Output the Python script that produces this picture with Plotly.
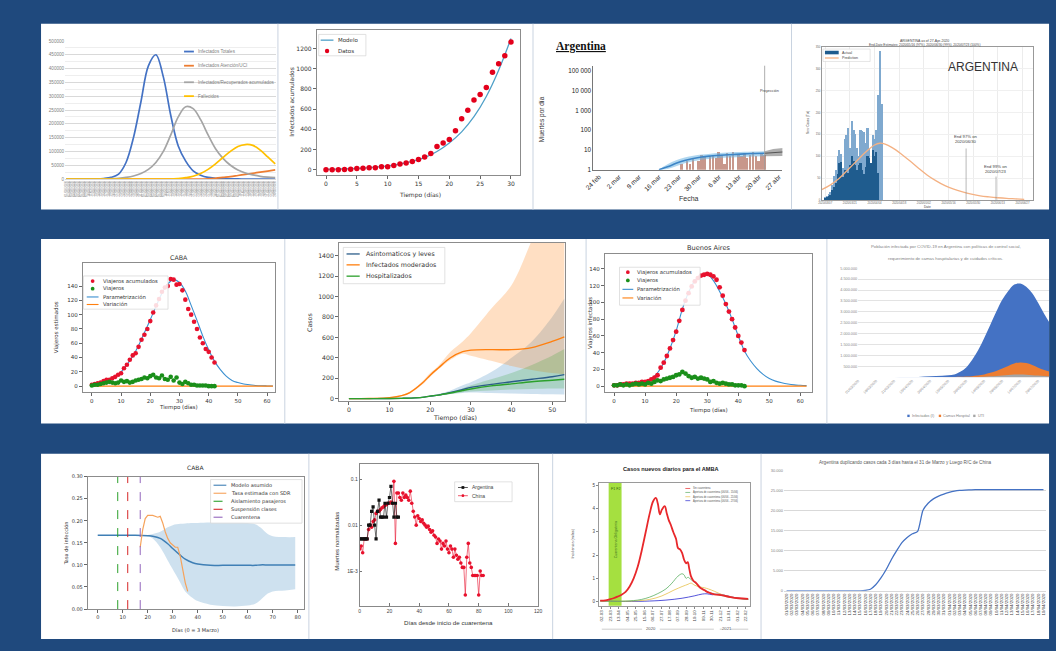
import pandas as pd
import plotly.graph_objects as go

W, H = 1056, 651
BG = "#1F497D"
MPL = "DejaVu Sans"
XL = "Liberation Sans"
SERIF = "Liberation Serif"

# ======================= DATA =======================
# Panel A (Excel curves)
A_days = list(range(0, 85, 3))
A_labels = [d.strftime("%d/%m/%Y") for d in pd.date_range("2020-03-01", periods=85)]
A_total = [0, 0, 0, 0, 500, 2000, 6000, 18000, 60000, 150000, 280000, 410000, 450000, 370000, 230000,
           120000, 65000, 30000, 14000, 6000, 3000, 1500, 800, 400, 200, 100, 50, 20, 10]
A_uci = [0] * 19 + [1000, 3000, 6000, 9000, 13000, 17000, 21000, 25000, 29000, 33000]
A_hosp = [0, 0, 0, 0, 0, 500, 1500, 3000, 6000, 11000, 20000, 35000, 60000, 100000, 160000, 225000,
          262000, 255000, 215000, 160000, 110000, 75000, 50000, 33000, 22000, 15000, 10000, 7000, 5000]
A_fall = [0] * 15 + [2000, 5000, 10000, 20000, 35000, 55000, 78000, 100000, 118000, 125000, 122000,
                     105000, 80000, 55000]
A_yticks = list(range(0, 500001, 50000))
A_names = ["Infectados Totales", "Infectados Atención/UCI", "Infectados/Recuperados acumulados", "Fallecidos"]

# Panel B (Modelo / Datos)
B_days = list(range(31))
B_data = [0, 0, 0, 2, 5, 12, 15, 18, 20, 30, 30, 40, 55, 65, 80, 100, 125, 160, 230, 265, 300, 385, 505,
          590, 690, 745, 815, 965, 1050, 1130, 1265]
B_mdays = list(range(0, 31, 2))
B_model = [3, 6, 10, 16, 25, 38, 56, 82, 120, 180, 265, 375, 525, 725, 985, 1300]

# Panel C (Argentina, log)
C_xt = [0, 7, 14, 21, 28, 35, 42, 49, 56, 63]
C_xl = ["24 feb", "2 mar", "9 mar", "16 mar", "23 mar", "30 mar", "6 abr", "13 abr", "20 abr", "27 abr"]
C_bar_days = list(range(29, 59))
C_bar_vals = [2, 1, 3, 2, 4, 1, 3, 6, 5, 1, 5, 6, 4, 8, 6, 2, 7, 5, 8, 1, 6, 5, 7, 4, 6, 8, 5, 3, 7, 6]
C_band_days = [21, 24, 27, 30, 33, 36, 39, 42, 45, 48, 51, 54, 58]
C_band_lo = [1.0, 1.1, 1.5, 2.1, 2.7, 3.2, 3.6, 3.9, 4.1, 4.3, 4.5, 4.7, 4.8]
C_band_mid = [1.0, 1.4, 2.1, 2.9, 3.7, 4.4, 4.9, 5.3, 5.7, 6.0, 6.3, 6.6, 6.8]
C_band_hi = [1.05, 1.9, 3.0, 4.1, 5.1, 5.9, 6.5, 7.0, 7.4, 7.8, 8.1, 8.4, 8.7]
C_proj_days = [58, 61, 65]
C_proj_lo = [4.8, 4.9, 5.0]
C_proj_mid = [6.8, 7.4, 8.0]
C_proj_hi = [8.7, 11, 13]
C_proj_start = 58

# Panel D (Argentina actual/prediction)
D_bar_days = list(range(2, 36))
D_light = [8, 10, 14, 20, 35, 55, 69, 100, 115, 105, 73, 140, 149, 164, 120, 182, 160, 152, 120, 100,
           160, 158, 156, 130, 164, 120, 84, 149, 140, 160, 240, 341, 220, 0]
D_dark = [6, 8, 9, 12, 24, 30, 39, 60, 84, 88, 54, 70, 69, 62, 80, 100, 90, 81, 70, 81, 85, 69, 60, 75,
          100, 96, 85, 115, 100, 110, 62, 0, 0, 0]
D_pred_days = [0, 5, 10, 15, 20, 25, 30, 33, 36, 40, 45, 50, 55, 60, 65, 70, 75, 80, 85, 90, 95, 100, 105, 110, 115]
D_pred = [24, 35, 50, 70, 90, 110, 126, 130, 128, 120, 106, 90, 73, 57, 44, 33, 25, 19, 14, 10, 7.5, 5.5, 4, 3, 2]
D_end_days = [82, 99]
D_end_tops = [118, 54]
D_xt = [2, 16, 30, 44, 58, 72, 86, 100, 114]
D_xl = [(pd.Timestamp("2020-03-05") + pd.Timedelta(days=d)).strftime("%Y/%m/%d") for d in D_xt]

# Panel E (CABA viajeros)
E_days = list(range(43))
E_acum = [2, 3, 4, 5, 7, 9, 9, 11, 13, 16, 18, 25, 30, 37, 43, 46, 55, 65, 72, 80, 91, 103, 113, 122, 132,
          138, 140, 150, 149, 142, 143, 134, 121, 108, 100, 90, 80, 68, 60, 52, 48, 40, 33]
E_viaj = [1, 2, 2, 3, 4, 5, 6, 5, 4, 5, 8, 6, 7, 5, 6, 8, 9, 10, 12, 11, 14, 16, 12, 11, 15, 10, 9, 13, 8,
          12, 5, 3, 6, 4, 2, 2, 1, 1, 1, 1, 0, 0, 0]
E_pdays = list(range(0, 63, 2))
E_param = [1, 3, 6, 9, 14, 20, 30, 42, 57, 75, 93, 112, 130, 143, 149, 145, 133, 113, 92, 70, 51, 35, 23,
           14, 8, 5, 3, 2, 1, 0.5, 0.3, 0.2]
E_vdays = [0, 20, 40, 62]
E_var = [0, 0, 0, 0]

# Panel F (Casos con bandas)
F_t = [0, 5, 10, 13, 15, 18, 20, 22, 25, 28, 30, 35, 40, 45, 50, 53]
F_or_mean = [0, 2, 10, 30, 60, 150, 230, 300, 400, 460, 475, 480, 480, 500, 560, 605]
F_or_lo = [0, 1, 8, 25, 52, 135, 215, 285, 380, 440, 420, 370, 320, 280, 250, 240]
F_or_hi = [0, 3, 12, 35, 70, 165, 250, 320, 460, 560, 640, 880, 1110, 1550, 2000, 2300]
F_bl_mean = [0, 0, 1, 3, 5, 12, 25, 35, 60, 90, 110, 140, 165, 190, 215, 235]
F_bl_lo = [0, 0, 1, 2, 3, 9, 20, 28, 45, 55, 60, 55, 50, 45, 42, 40]
F_bl_hi = [0, 0, 1, 4, 7, 15, 30, 45, 80, 130, 160, 260, 400, 560, 800, 980]
F_gr_mean = [0, 0, 1, 3, 5, 12, 25, 35, 55, 80, 95, 125, 145, 165, 180, 190]
F_gr_lo = [0, 0, 1, 2, 4, 10, 20, 30, 45, 62, 70, 80, 90, 95, 100, 100]
F_gr_hi = [0, 0, 1, 4, 6, 14, 30, 40, 65, 100, 130, 190, 250, 330, 420, 485]

# Panel G (Buenos Aires viajeros)
G_days = list(range(43))
G_acum = [1, 1, 2, 2, 3, 3, 3, 4, 4, 5, 5, 6, 8, 10, 13, 22, 28, 36, 45, 55, 65, 78, 91, 102, 111, 119,
          125, 129, 132, 133, 134, 133, 131, 127, 118, 108, 98, 89, 80, 70, 60, 52, 43]
G_viaj = [1, 1, 2, 1, 2, 1, 2, 3, 2, 3, 2, 4, 3, 5, 7, 6, 8, 9, 10, 11, 13, 14, 17, 15, 12, 10, 11, 9, 10,
          9, 8, 5, 6, 4, 3, 4, 3, 2, 2, 1, 1, 1, 0]
G_pdays = list(range(0, 63, 2))
G_param = [0.5, 1, 2, 3, 4, 6, 9, 16, 28, 45, 66, 92, 112, 126, 133, 134, 126, 113, 98, 80, 60, 42, 30,
           21, 14, 9, 6, 4, 2.5, 1.5, 1, 0.6]
G_vdays = [0, 20, 40, 62]
G_var = [0, 0, 0, 0]

# Panel H (Excel area)
H_days = [0, 10, 20, 30, 40, 50, 60, 70, 80, 85, 90, 95, 100, 105, 110, 115, 120, 125, 130, 135, 140,
          145, 150, 155, 160]
H_inf = [0, 0, 0, 1000, 5000, 15000, 40000, 70000, 120000, 250000, 450000, 800000, 1250000, 1800000,
         2400000, 3000000, 3550000, 3950000, 4250000, 4300000, 4150000, 3850000, 3400000, 2900000, 2450000]
H_cam = [0, 0, 0, 0, 0, 500, 1500, 4000, 10000, 18000, 30000, 50000, 80000, 130000, 200000, 290000,
         400000, 520000, 630000, 680000, 650000, 560000, 440000, 330000, 250000]
H_uti = [0, 0, 0, 0, 0, 0, 0, 500, 1500, 3000, 5000, 8000, 15000, 25000, 40000, 60000, 80000, 100000,
         120000, 125000, 115000, 95000, 75000, 60000, 45000]
H_xt = list(range(0, 151, 15))
H_xl = [(pd.Timestamp("2020-03-01") + pd.Timedelta(days=d)).strftime("%d/%m/%Y") for d in H_xt]
H_yt = list(range(500000, 5000001, 500000))
H_yl = [f"{v:,}".replace(",", ".") for v in H_yt]

# Panel I (CABA tasa)
I_x = [0, 5, 10, 15, 20, 22, 25, 28, 30, 33, 35, 38, 40, 45, 50, 55, 60, 63, 65, 68, 70, 75, 79]
I_lo = [.167, .167, .167, .167, .165, .160, .140, .110, .090, .060, .040, .025, .018, .010, .007, .006,
        .008, .012, .020, .035, .040, .042, .045]
I_hi = [.167, .167, .167, .167, .168, .170, .175, .185, .190, .193, .194, .195, .195, .196, .196, .196,
        .195, .192, .185, .170, .165, .163, .163]
I_mean = [.167, .167, .167, .167, .166, .165, .160, .148, .137, .122, .113, .105, .102, .099, .099, .099,
          .099, .099, .100, .100, .100, .100, .100]
I_or_x = [17, 18, 19, 20, 22, 24, 25, 26, 27, 28, 29, 30, 31, 32, 33, 34, 35, 36]
I_or_y = [0.14, 0.18, 0.205, 0.212, 0.212, 0.208, 0.21, 0.195, 0.175, 0.16, 0.15, 0.145, 0.14, 0.14,
          0.12, 0.09, 0.06, 0.04]
I_events = [8, 12, 17]
I_event_names = ["Aislamiento pasajeros", "Suspensión clases", "Cuarentena"]
I_event_colors = ["#2ca02c", "#d62728", "#9467bd"]

# Panel J (Argentina / China log)
J_arg_x = list(range(27))
J_arg_y = [0.005, 0.005, 0.005, 0.005, 0.005, 0.005, 0.01, 0.01, 0.02, 0.025, 0.01, 0.005, 0.02, 0.035,
           0.015, 0.015, 0.015, 0.03, 0.015, 0.03, 0.04, 0.07, 0.03, 0.015, 0.03, 0.015, 0.015]
J_chn_x = list(range(84))
J_chn_y = [0.003, 0.0035, 0.0025, 0.005, 0.005, 0.005, 0.008, 0.01, 0.009, 0.012, 0.013, 0.018, 0.02,
           0.02, 0.022, 0.024, 0.025, 0.027, 0.028, 0.03, 0.03, 0.032, 0.03, 0.09, 0.004, 0.05, 0.05,
           0.04, 0.035, 0.05, 0.04, 0.045, 0.04, 0.035, 0.055, 0.03, 0.02, 0.015, 0.01, 0.016, 0.014,
           0.012, 0.013, 0.011, 0.01, 0.009, 0.0095, 0.008, 0.007, 0.0075, 0.006, 0.0055, 0.004, 0.005,
           0.0045, 0.003, 0.004, 0.0035, 0.0045, 0.003, 0.0025, 0.0035, 0.003, 0.002, 0.003, 0.0022,
           0.0018, 0.002, 0.0015, 0.0012, 0.0012, 0.0003, 0.002, 0.004, 0.0015, 0.0012, 0.0008, 0.0008,
           0.0008, 0.0008, 0.0003, 0.001, 0.0008, 0.0008]

# Panel K (AMBA)
K_red_x = [-3, 10, 20, 30, 40, 50, 60, 70, 80, 90, 100, 110, 120, 128, 135, 140, 145, 150, 157, 162, 167,
           172, 178, 185, 190, 195, 200, 205, 210, 214, 218, 222, 228, 235, 245, 255, 265, 280, 300, 320,
           340, 364]
K_red_y = [0.05, 0.06, 0.1, 0.15, 0.22, 0.3, 0.42, 0.65, 1.0, 1.5, 2.2, 3.0, 3.8, 4.3, 4.45, 4.2, 3.75,
           3.95, 4.1, 3.8, 3.5, 3.3, 3.0, 2.7, 2.3, 2.25, 2.1, 1.8, 1.65, 1.7, 1.4, 1.1, 0.9, 0.8, 0.6,
           0.5, 0.4, 0.32, 0.27, 0.2, 0.15, 0.12]
K_grn_x = [-3, 40, 80, 100, 120, 140, 160, 175, 190, 200, 205, 210, 215, 222, 230, 240, 250, 260, 275,
           290, 310, 330, 364]
K_grn_y = [0.03, 0.02, 0.05, 0.1, 0.2, 0.35, 0.55, 0.8, 1.1, 1.2, 1.15, 1.0, 1.05, 0.95, 0.85, 0.7,
           0.55, 0.45, 0.35, 0.3, 0.22, 0.16, 0.1]
K_yel_x = [-3, 80, 120, 150, 180, 200, 215, 222, 230, 240, 255, 265, 280, 300, 330, 364]
K_yel_y = [0.03, 0.03, 0.1, 0.25, 0.5, 0.65, 0.75, 0.8, 0.72, 0.65, 0.6, 0.55, 0.45, 0.3, 0.18, 0.1]
K_blu_x = [-3, 60, 120, 160, 200, 230, 250, 262, 275, 290, 305, 330, 364]
K_blu_y = [0.04, 0.01, 0.03, 0.07, 0.15, 0.25, 0.33, 0.34, 0.3, 0.33, 0.28, 0.18, 0.1]
K_quar = [18, 50]
K_xt = list(range(1, 359, 21))
K_xl = [(pd.Timestamp("2020-03-01") + pd.Timedelta(days=d)).strftime("%d-%m") for d in K_xt]
K_names = ["Sin cuarentena", "Apertura de cuarentena (06/06 - 15/06)",
           "Apertura de cuarentena (06/06 - 21/06)", "Apertura de cuarentena (06/06 - 27/06)"]

# Panel L (Excel line)
L_vals = [0] * 15 + [100, 400, 1500, 3200, 5300, 7800, 10000, 12000, 13300, 14200, 14800, 20000, 21800,
                     22900, 23600, 24100, 24500, 24800, 25000, 25100, 25150] + [25200] * 14
L_labels = [d.strftime("%d/%m/%Y") for d in pd.date_range("2020-03-01", periods=50)]
L_yt = list(range(0, 30001, 5000))
L_yl = [f"{v:,}".replace(",", ".") for v in L_yt]

# ======================= HELPERS =======================
fig = go.Figure()
shapes, annos = [], []
_n = [0]


def axes(box, xr, yr, xkw=None, ykw=None):
    _n[0] += 1
    n = _n[0]
    s = "" if n == 1 else str(n)
    x0, y0, x1, y1 = box
    xa = dict(domain=[x0 / W, x1 / W], range=xr, anchor="y" + s, showgrid=False, zeroline=False)
    ya = dict(domain=[1 - y1 / H, 1 - y0 / H], range=yr, anchor="x" + s, showgrid=False, zeroline=False)
    xa.update(xkw or {})
    ya.update(ykw or {})
    fig.update_layout({"xaxis" + s: xa, "yaxis" + s: ya})
    return "x" + s, "y" + s


def mpl(fs=6, **kw):
    d = dict(showline=True, mirror=True, linecolor="#8c8c8c", linewidth=0.8, ticks="outside", ticklen=3,
             tickwidth=0.7, tickcolor="#666", tickfont=dict(family=MPL, size=fs, color="#333"))
    d.update(kw)
    return d


def txt(x, y, s, size, color="#333", family=MPL, xa="center", ya="middle", angle=0):
    annos.append(dict(xref="paper", yref="paper", x=x / W, y=1 - y / H, text=s, showarrow=False,
                      xanchor=xa, yanchor=ya, textangle=angle, borderpad=0,
                      font=dict(size=size, color=color, family=family)))


def pline(x0, y0, x1, y1, color, width=1.0, dash="solid", layer="above"):
    shapes.append(dict(type="line", xref="paper", yref="paper", x0=x0 / W, y0=1 - y0 / H, x1=x1 / W,
                       y1=1 - y1 / H, line=dict(color=color, width=width, dash=dash), layer=layer))


def prect(x0, y0, x1, y1, fill, lc=None, lw=0, layer="above"):
    shapes.append(dict(type="rect", xref="paper", yref="paper", x0=x0 / W, y0=1 - y1 / H, x1=x1 / W,
                       y1=1 - y0 / H, fillcolor=fill, line=dict(color=lc or fill, width=lw), layer=layer))


def pdot(xc, yc, r, color, kind="circle"):
    shapes.append(dict(type="circle" if kind == "circle" else "rect", xref="paper", yref="paper",
                       x0=(xc - r) / W, x1=(xc + r) / W, y0=1 - (yc + r) / H, y1=1 - (yc - r) / H,
                       fillcolor=color, line=dict(width=0)))


def legend(items, x, ys, size, symw, gap, family=MPL, color="#333", lw=1.3, r=1.6, box=None):
    if box:
        prect(*box, "rgba(255,255,255,0.85)", "#d4d4d4", 0.7)
    for (label, kind, col), yc in zip(items, ys):
        if kind in ("line", "dash", "dotline", "sqline"):
            pline(x, yc, x + symw, yc, col, lw, "dash" if kind == "dash" else "solid")
        if kind in ("dot", "dotline"):
            pdot(x + symw / 2, yc, r, col)
        if kind in ("sq", "sqline"):
            pdot(x + symw / 2, yc, r, col, "rect")
        if kind == "patch":
            prect(x, yc - r, x + symw, yc + r, col)
        txt(x + symw + gap, yc, label, size, color, family, xa="left")


def sc(xa, ya, x, y, **kw):
    fig.add_trace(go.Scatter(x=x, y=y, xaxis=xa, yaxis=ya, showlegend=False, hoverinfo="skip", **kw))


# ======================= BACKGROUND =======================
for (y0, y1) in [(21, 208.5), (238.3, 424.5), (455, 642)]:
    prect(27.5, y0, 1053, y1, "white", layer="below")
for (x, y0, y1) in [(268.5, 21, 208.5), (528, 21, 208.5), (791, 21, 208.5),
                    (275.5, 238.3, 424.5), (582, 238.3, 424.5), (827, 238.3, 424.5),
                    (300, 455, 642), (548, 455, 642), (760, 455, 642)]:
    pline(x, y0, x, y1, "#c9d3e0", 1, layer="below")

# ======================= PANEL A =======================
xa_, ya_ = axes((52, 38.3, 267, 177.7), [-0.5, 84.5], [0, 500000],
                xkw=dict(tickmode="array", tickvals=list(range(85)), ticktext=A_labels, tickangle=-90,
                         tickfont=dict(family=XL, size=3.1, color="#8a8a8a"), showline=True,
                         linecolor="#d9d9d9", linewidth=0.8, ticks=""),
                ykw=dict(tickmode="array", tickvals=A_yticks, ticktext=[str(v) for v in A_yticks],
                         tickfont=dict(family=XL, size=4.6, color="#7f7f7f"), showgrid=True,
                         gridcolor="#d9d9d9", gridwidth=0.6,
                         minor=dict(tickmode="linear", tick0=0, dtick=25000, showgrid=True,
                                    gridcolor="#eeeeee", gridwidth=0.5)))
A_cols = ["#4472C4", "#ED7D31", "#A5A5A5", "#FFC000"]
for vals, col in zip([A_total, A_uci, A_hosp, A_fall], A_cols):
    sc(xa_, ya_, A_days, vals, mode="lines", line=dict(color=col, width=1.7, shape="spline", smoothing=1.0))
legend(list(zip(A_names, ["line"] * 4, A_cols)), 173, [49, 63.3, 80, 94], 4.6, 10, 3, family=XL,
       color="#7f7f7f", lw=1.8)

# ======================= PANEL B =======================
xb, yb = axes((308, 27.7, 515, 173.3), [-1.5, 31.5], [-50, 1380],
              xkw=mpl(6, tickvals=[0, 5, 10, 15, 20, 25, 30]),
              ykw=mpl(6, tickvals=[0, 200, 400, 600, 800, 1000, 1200]))
sc(xb, yb, B_mdays, B_model, mode="lines", line=dict(color="#4fa0c8", width=1.3, shape="spline"))
sc(xb, yb, B_days, B_data, mode="markers", marker=dict(color="#e3001b", size=5.5))
legend([("Modelo", "line", "#4fa0c8"), ("Datos", "dot", "#e3001b")], 312, [37.5, 48.5], 5.5, 13, 4,
       r=2.2, box=(310, 31.7, 358, 53.3))
txt(413, 193.5, "Tiempo (días)", 6)
txt(281.5, 100, "Infectados acumulados", 6, angle=-90)

# ======================= PANEL C =======================
xc, yc = axes((589.3, 63.3, 781.7, 168.3), [-2.0, 64.2], [0, 5.25],
              xkw=dict(tickmode="array", tickvals=C_xt, ticktext=C_xl, tickangle=-45,
                       tickfont=dict(family=XL, size=6.5, color="#222"), showline=True,
                       linecolor="#777", linewidth=0.8, ticks=""),
              ykw=dict(type="log", tickmode="array", tickvals=[1, 10, 100, 1000, 10000, 100000],
                       ticktext=["1", "10", "100", "1 000", "10 000", "100 000"],
                       tickfont=dict(family=XL, size=6.3, color="#222"), showline=True,
                       linecolor="#777", linewidth=0.8, ticks=""))
fig.add_trace(go.Bar(x=C_bar_days, y=C_bar_vals, xaxis=xc, yaxis=yc, marker=dict(color="#c8978b", line=dict(width=0)),
                     width=0.85, showlegend=False, hoverinfo="skip"))
sc(xc, yc, C_band_days, C_band_hi, mode="lines", line=dict(width=0, shape="spline"))
sc(xc, yc, C_band_days, C_band_lo, mode="lines", line=dict(width=0, shape="spline"), fill="tonexty",
   fillcolor="rgba(110,180,225,0.55)")
sc(xc, yc, C_band_days, C_band_mid, mode="lines", line=dict(color="#3d85c6", width=1.6, shape="spline"))
sc(xc, yc, C_proj_days, C_proj_hi, mode="lines", line=dict(width=0))
sc(xc, yc, C_proj_days, C_proj_lo, mode="lines", line=dict(width=0), fill="tonexty",
   fillcolor="rgba(120,120,120,0.6)")
sc(xc, yc, C_proj_days, C_proj_mid, mode="lines", line=dict(color="#555", width=1))
shapes.append(dict(type="line", xref=xc, yref=yc + " domain", x0=C_proj_start, x1=C_proj_start, y0=0, y1=1,
                   line=dict(color="#9a9a9a", width=0.8)))
txt(769, 89, "Proyección", 3.8, "#444", XL)
txt(550, 43.5, "<b><u>Argentina</u></b>", 11.5, "#111", SERIF, xa="left")
txt(687, 197, "Fecha", 7, "#333", XL)
txt(537.5, 117, "Muertes por día", 6.5, "#333", XL, angle=-90)

# ======================= PANEL D =======================
xd, yd = axes((821.7, 44.3, 1036.7, 199), [0, 120], [0, 350],
              xkw=dict(tickmode="array", tickvals=D_xt, ticktext=D_xl,
                       tickfont=dict(family=XL, size=2.8, color="#666"), showgrid=True,
                       gridcolor="#ececec", gridwidth=0.5, showline=True, mirror=True,
                       linecolor="#999", linewidth=0.6, ticks=""),
              ykw=dict(tickmode="array", tickvals=list(range(0, 351, 50)),
                       tickfont=dict(family=XL, size=2.8, color="#666"), showgrid=True,
                       gridcolor="#f0f0f0", gridwidth=0.5, showline=True, mirror=True,
                       linecolor="#999", linewidth=0.6, ticks=""))
fig.add_trace(go.Bar(x=D_bar_days, y=D_light, xaxis=xd, yaxis=yd, marker=dict(color="#7fa9cf", line=dict(width=0)),
                     width=0.95, showlegend=False, hoverinfo="skip"))
fig.add_trace(go.Bar(x=D_bar_days, y=D_dark, xaxis=xd, yaxis=yd, marker=dict(color="#1f5c8e", line=dict(width=0)),
                     width=0.95, showlegend=False, hoverinfo="skip"))
sc(xd, yd, D_pred_days, D_pred, mode="lines", line=dict(color="#f4b183", width=1.3, shape="spline"))
for d, top in zip(D_end_days, D_end_tops):
    sc(xd, yd, [d, d], [0, top], mode="lines", line=dict(color="#888", width=0.6))
txt(968, 137.5, "End 97% on<br>2020/06/30", 4.2, "#444", XL)
txt(999, 168, "End 99% on<br>2020/07/23", 4.2, "#444", XL)
txt(986, 64.5, "ARGENTINA", 12, "#333", XL)
txt(926, 38, "ARGENTINA as of 27-Apr-2020", 3.5, "#444", XL)
txt(926, 42.3, "End-Date Estimates: 2020/05/16 (97%), 2020/06/30 (99%), 2020/07/23 (100%)", 3.2, "#444", XL)
prect(823, 46.5, 871, 59, "rgba(255,255,255,0.9)", "#cccccc", 0.5)
legend([("Actual", "patch", "#1f5c8e"), ("Prediction", "line", "#f4b183")], 825, [50, 55.5], 3.6, 14, 2,
       family=XL, color="#444", r=1.8)
txt(808, 120, "New Cases (Tot)", 3.2, "#444", XL, angle=-90)
txt(929, 205.5, "Date", 3.2, "#444", XL)

# ======================= PANEL E (CABA) =======================
xe, ye = axes((70, 262.7, 265.2, 392.7), [-3.1, 62.6], [-8.3, 171.9],
              xkw=mpl(5.5, tickvals=[0, 10, 20, 30, 40, 50, 60]),
              ykw=mpl(5.5, tickvals=[0, 20, 40, 60, 80, 100, 120, 140]))
sc(xe, ye, E_pdays, E_param, mode="lines", line=dict(color="#3a8fd0", width=1.1, shape="spline"))
sc(xe, ye, E_vdays, E_var, mode="lines", line=dict(color="#ff7f0e", width=1.1))
sc(xe, ye, E_days, E_acum, mode="markers", marker=dict(color="#e8112d", size=4.6))
sc(xe, ye, E_days, E_viaj, mode="markers", marker=dict(color="#1a8f1a", size=4.6))
legend([("Viajeros acumulados", "dot", "#e8112d"), ("Viajeros", "dot", "#1a8f1a"),
        ("Parametrización", "line", "#3a8fd0"), ("Variación", "line", "#ff7f0e")],
       74, [280.7, 288.3, 296.7, 304.3], 5.3, 12, 3.5, r=1.9, lw=1.1, box=(70.6, 275.5, 156.7, 309))
txt(167.6, 256.5, "CABA", 6.3)
txt(167.6, 408, "Tiempo (días)", 5.5)
txt(44, 327, "Viajeros estimados", 5.5, angle=-90)

# ======================= PANEL F =======================
xf, yf = axes((330.7, 242.3, 560.7, 401.7), [-2.42, 53.2], [-23, 1523],
              xkw=mpl(6.2, tickvals=[0, 10, 20, 30, 40, 50]),
              ykw=mpl(6.2, tickvals=[0, 200, 400, 600, 800, 1000, 1200, 1400]))
for hi, lo, fc in [(F_bl_hi, F_bl_lo, "rgba(31,119,180,0.22)"), (F_or_hi, F_or_lo, "rgba(255,127,14,0.25)"),
                   (F_gr_hi, F_gr_lo, "rgba(44,160,44,0.22)")]:
    sc(xf, yf, F_t, hi, mode="lines", line=dict(width=0, shape="spline"))
    sc(xf, yf, F_t, lo, mode="lines", line=dict(width=0, shape="spline"), fill="tonexty", fillcolor=fc)
for mean, col in [(F_bl_mean, "#2c5d8a"), (F_or_mean, "#ff7f0e"), (F_gr_mean, "#2ca02c")]:
    sc(xf, yf, F_t, mean, mode="lines", line=dict(color=col, width=1.4, shape="spline"))
legend([("Asintomaticos y leves", "line", "#2c5d8a"), ("Infectados moderados", "line", "#ff7f0e"),
        ("Hospitalizados", "line", "#2ca02c")], 338.3, [253.3, 264.3, 275.7], 6.3, 13.4, 5,
       lw=1.3, box=(335, 246.7, 438.3, 283.3))
txt(300, 322, "Casos", 6.3, angle=-90)
txt(448.3, 419, "Tiempo (días)", 6.3)

# ======================= PANEL G (Buenos Aires) =======================
xg, yg = axes((601, 253.3, 812, 392.7), [-3.0, 63.8], [-7.1, 157.8],
              xkw=mpl(5.5, tickvals=[0, 10, 20, 30, 40, 50, 60]),
              ykw=mpl(5.5, tickvals=[0, 20, 40, 60, 80, 100, 120, 140]))
sc(xg, yg, G_pdays, G_param, mode="lines", line=dict(color="#3a8fd0", width=1.1, shape="spline"))
sc(xg, yg, G_vdays, G_var, mode="lines", line=dict(color="#ff7f0e", width=1.1))
sc(xg, yg, G_days, G_acum, mode="markers", marker=dict(color="#e8112d", size=4.8))
sc(xg, yg, G_days, G_viaj, mode="markers", marker=dict(color="#1a8f1a", size=4.8))
legend([("Viajeros acumulados", "dot", "#e8112d"), ("Viajeros", "dot", "#1a8f1a"),
        ("Parametrización", "line", "#3a8fd0"), ("Variación", "line", "#ff7f0e")],
       619, [271.7, 280, 289, 297.7], 5.3, 11, 3, r=1.9, lw=1.1, box=(616, 266.7, 698, 305))
txt(706.5, 247.5, "Buenos Aires", 6.6)
txt(706.5, 411.7, "Tiempo (días)", 5.5)
txt(586, 323, "Viajeros infectados", 5.5, angle=-90)

# ======================= PANEL H (Excel area) =======================
xh, yh = axes((858.8, 267.7, 1053, 377.7), [0, 159], [0, 5000000],
              xkw=dict(tickmode="array", tickvals=H_xt, ticktext=H_xl, tickangle=-45,
                       tickfont=dict(family=XL, size=3.6, color="#8a8a8a"), ticks="", showline=False),
              ykw=dict(tickmode="array", tickvals=H_yt, ticktext=H_yl,
                       tickfont=dict(family=XL, size=3.8, color="#8a8a8a"), showgrid=True,
                       gridcolor="#e3e3e3", gridwidth=0.6))
for vals, col in [(H_inf, "#4472C4"), (H_cam, "#ED7D31"), (H_uti, "#A5A5A5")]:
    sc(xh, yh, H_days, vals, mode="lines", line=dict(width=0, shape="spline", color=col), fill="tozeroy",
       fillcolor=col)
txt(947.7, 246, "Población infectada por COVID-19 en Argentina con políticas de control social,", 4.3,
    "#7f7f7f", XL)
txt(947.7, 257.7, "requerimiento de camas hospitalarias y de cuidados críticos.", 4.3, "#7f7f7f", XL)
for (lab, col, x) in [("Infectados (I)", "#4472C4", 910), ("Camas Hospital", "#ED7D31", 942),
                      ("UTI", "#A5A5A5", 977)]:
    pdot(x, 416.7, 1.2, col, "rect")
    txt(x + 2.5, 416.7, lab, 3.8, "#7f7f7f", XL, xa="left")

# ======================= PANEL I (CABA tasa) =======================
xi, yi = axes((75, 478, 295, 611.7), [-4, 82.5], [0, 0.3],
              xkw=mpl(5, tickvals=[0, 10, 20, 30, 40, 50, 60, 70, 80]),
              ykw=mpl(5, tickvals=[0, 0.05, 0.1, 0.15, 0.2, 0.25, 0.3],
                      ticktext=["0.00", "0.05", "0.10", "0.15", "0.20", "0.25", "0.30"]))
sc(xi, yi, I_x, I_hi, mode="lines", line=dict(width=0, shape="spline"))
sc(xi, yi, I_x, I_lo, mode="lines", line=dict(width=0, shape="spline"), fill="tonexty",
   fillcolor="rgba(31,119,180,0.22)")
sc(xi, yi, I_x, I_mean, mode="lines", line=dict(color="#3f7fb5", width=1.5, shape="spline"))
sc(xi, yi, I_or_x, I_or_y, mode="lines", line=dict(color="#f6a35b", width=1.2))
for ex, ec in zip(I_events, I_event_colors):
    sc(xi, yi, [ex, ex], [0, 0.3], mode="lines", line=dict(color=ec, width=1, dash="dash"))
legend([("Modelo asumido", "line", "#3f7fb5"), ("Tasa estimada con SDR", "line", "#f6a35b")] +
       [(nm, "dash", c) for nm, c in zip(I_event_names, I_event_colors)],
       203, [486.7, 494.8, 502.9, 511, 519], 5, 13, 3.5, lw=1.1, box=(200, 481, 293, 525))
txt(185, 469, "CABA", 6)
txt(185, 632.7, "Días (0 = 3 Marzo)", 5)
txt(53.3, 545, "Tasa de infección", 5, angle=-90)

# ======================= PANEL J (Argentina / China) =======================
xj, yj = axes((351.7, 465, 533.3, 608.3), [0, 120], [-3.756, -0.661],
              xkw=dict(showline=True, mirror=True, linecolor="#888", linewidth=0.8, ticks="inside",
                       ticklen=2.5, tickcolor="#777", tickvals=[0, 20, 40, 60, 80, 100, 120],
                       tickfont=dict(family=XL, size=5, color="#444")),
              ykw=dict(type="log", showline=True, mirror=True, linecolor="#888", linewidth=0.8,
                       ticks="inside", ticklen=2.5, tickcolor="#777", tickvals=[0.1, 0.01, 0.001],
                       ticktext=["0.1", "0.01", "1E-3"], tickfont=dict(family=XL, size=5, color="#444")))
sc(xj, yj, J_chn_x, J_chn_y, mode="lines+markers", line=dict(color="#e8112d", width=0.6),
   marker=dict(color="#e8112d", size=3.6))
sc(xj, yj, J_arg_x, J_arg_y, mode="lines+markers", line=dict(color="#111", width=0.6),
   marker=dict(color="#111", size=3.2, symbol="square"))
legend([("Argentina", "sqline", "#111"), ("China", "dotline", "#e8112d")], 451.7, [489, 497.3], 5, 10, 3,
       family=XL, color="#444", lw=0.7, r=1.4, box=(448.3, 483.3, 506.7, 503.3))
txt(328.3, 543, "Muertes normalizadas", 6, "#333", XL, angle=-90)
txt(442.3, 625, "Días desde inicio de cuarentena", 6.2, "#333", XL)

# ======================= PANEL K (AMBA) =======================
xk, yk = axes((595, 484.3, 749, 608.3), [-6.3, 369], [-0.17, 5.1],
              xkw=dict(showline=True, mirror=True, linecolor="#9a9a9a", linewidth=0.7, ticks="outside",
                       ticklen=2, tickcolor="#888", tickmode="array", tickvals=K_xt, ticktext=K_xl,
                       tickangle=-90, tickfont=dict(family=XL, size=4.4, color="#444")),
              ykw=dict(showline=True, mirror=True, linecolor="#9a9a9a", linewidth=0.7, ticks="outside",
                       ticklen=2, tickcolor="#888", tickvals=[0, 1, 2, 3, 4, 5],
                       tickfont=dict(family=XL, size=4.5, color="#444")))
shapes.append(dict(type="rect", xref=xk, yref=yk + " domain", x0=K_quar[0], x1=K_quar[1], y0=0, y1=1,
                   fillcolor="#a5e040", line=dict(width=0), layer="below"))
annos.append(dict(xref=xk, yref=yk, x=37, y=2.65, text="Cuarentena Obligatoria", showarrow=False,
                  textangle=-90, font=dict(size=3.6, color="#3b6e1e", family=XL)))
annos.append(dict(xref=xk, yref=yk, x=34, y=4.85, text="F1 F2", showarrow=False,
                  font=dict(size=3.6, color="#2b5a12", family=XL)))
for xs, ys_, col, w in [(K_blu_x, K_blu_y, "#2a2ad0", 0.8), (K_yel_x, K_yel_y, "#e6c04a", 0.8),
                        (K_grn_x, K_grn_y, "#5aae61", 0.8), (K_red_x, K_red_y, "#e8282b", 1.8)]:
    sc(xk, yk, xs, ys_, mode="lines", line=dict(color=col, width=w, shape="spline"))
legend(list(zip(K_names, ["line"] * 4, ["#e8282b", "#5aae61", "#e6c04a", "#2a2ad0"])), 683,
       [490, 494, 498.3, 502.3], 2.6, 5, 2, family=XL, color="#555", lw=0.7)
txt(668.3, 470, "<b>Casos nuevos diarios para el AMBA</b>", 5.6, "#222", XL)
txt(568.3, 546, "Incidencia (miles)", 3.8, "#444", XL, angle=-90)
txt(648, 631.5, "2020", 4.2, "#555", XL)
txt(725, 631.5, "2021", 4.2, "#555", XL)
for (a, b) in [(598, 639), (657, 712), (718, 721), (729, 747)]:
    pline(a, 632, b, 632, "#aaaaaa", 0.6)

# ======================= PANEL L (Excel line) =======================
xl_, yl_ = axes((783.3, 471.7, 1050, 593.3), [-0.5, 49.5], [0, 30000],
                xkw=dict(tickmode="array", tickvals=list(range(50)), ticktext=L_labels, tickangle=-90,
                         tickfont=dict(family=XL, size=4.4, color="#404040"), showline=True,
                         linecolor="#d9d9d9", linewidth=0.8, ticks=""),
                ykw=dict(tickmode="array", tickvals=L_yt, ticktext=L_yl,
                         tickfont=dict(family=XL, size=4, color="#7f7f7f"), showgrid=True,
                         gridcolor="#d9d9d9", gridwidth=0.6))
sc(xl_, yl_, list(range(50)), L_vals, mode="lines", line=dict(color="#4472C4", width=1.3, shape="spline",
                                                               smoothing=0.6))
txt(906.7, 463.3, "Argentina duplicando casos cada 3 días hasta el 31 de Marzo y Luego R/C de China", 4.6,
    "#595959", XL)

# ======================= LAYOUT =======================
fig.update_layout(width=W, height=H, margin=dict(l=0, r=0, t=0, b=0, pad=0), paper_bgcolor=BG,
                  plot_bgcolor="white", showlegend=False, barmode="overlay", bargap=0,
                  shapes=shapes, annotations=annos, font=dict(family=MPL, color="#333"))
fig.write_html("out.html", config={"displayModeBar": False},
               post_script="document.body.style.margin='0';document.body.style.overflow='hidden';")
